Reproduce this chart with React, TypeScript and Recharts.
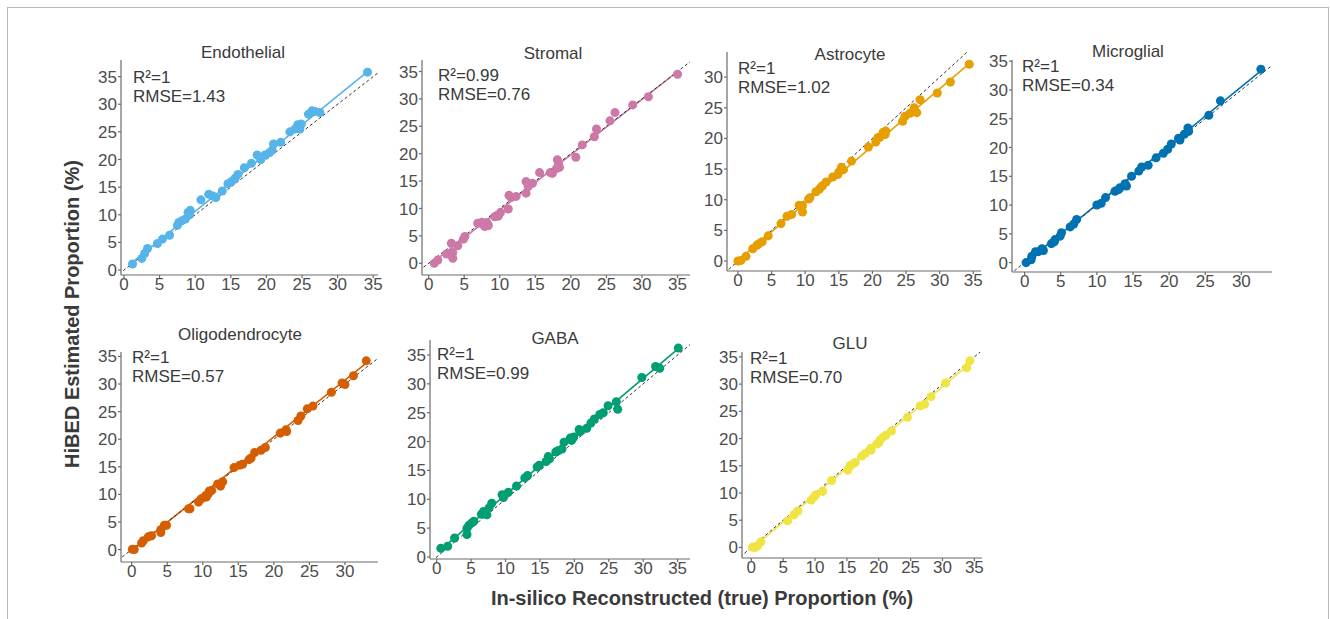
import { ScatterChart, Scatter, XAxis, YAxis, ZAxis, ReferenceLine } from 'recharts';

const FONT = '"Liberation Sans", Arial, Helvetica, sans-serif';
const TICKS_35 = [0, 5, 10, 15, 20, 25, 30, 35];
const TICKS_30 = [0, 5, 10, 15, 20, 25, 30];

// [true %, estimated %]
const endothelialPts = [
  [1.2, 1.1], [2.5, 2.1], [2.9, 3.0], [3.3, 3.9], [4.7, 4.8], [5.4, 5.6], [6.4, 6.3],
  [7.5, 8.1], [7.7, 8.6], [8.1, 8.9], [8.6, 9.2], [9.0, 10.4], [9.3, 10.8], [9.2, 10.0],
  [10.8, 12.7], [11.9, 13.7], [12.5, 13.4], [12.9, 13.1], [13.8, 14.3], [14.6, 15.6],
  [15.1, 16.0], [15.6, 16.6], [16.0, 17.3], [16.9, 18.5], [17.9, 19.3], [18.7, 20.8],
  [19.2, 20.0], [19.8, 20.8], [20.4, 21.2], [20.8, 21.7], [21.0, 22.8], [22.0, 23.1],
  [23.3, 25.0], [24.0, 25.5], [24.4, 26.3], [24.7, 25.5], [24.9, 26.4], [25.9, 28.2],
  [26.4, 28.8], [26.8, 28.7], [27.5, 28.5], [34.2, 35.8],
];
const stromalPts = [
  [0.8, 0.0], [1.3, 0.6], [2.5, 1.7], [3.2, 3.65], [3.4, 1.95], [3.4, 0.9], [4.1, 3.2],
  [4.9, 4.4], [5.1, 4.9], [6.9, 7.3], [7.5, 7.5], [7.7, 7.0], [8.2, 7.4], [8.4, 6.9],
  [7.9, 6.7], [9.3, 8.5], [9.8, 8.6], [10.1, 9.25], [11.2, 9.9], [11.3, 12.4], [11.6, 12.0],
  [12.3, 12.2], [13.7, 12.8], [13.7, 14.9], [14.0, 14.0], [14.6, 14.6], [15.6, 16.55],
  [17.1, 16.55], [17.4, 16.4], [18.1, 18.9], [18.25, 18.3], [18.4, 17.5], [18.0, 17.3],
  [20.7, 19.35], [21.6, 21.6], [23.3, 23.1], [23.6, 24.5], [25.5, 26.0], [26.2, 27.5],
  [28.7, 28.9], [30.9, 30.4], [35.0, 34.5],
];
const astrocytePts = [
  [0.0, 0.0], [0.45, 0.1], [1.2, 0.76], [2.2, 2.0], [2.8, 2.55], [3.1, 2.8], [3.6, 3.15],
  [4.5, 4.1], [6.4, 6.1], [7.3, 7.3], [8.0, 7.6], [9.1, 9.1], [9.6, 9.0], [9.6, 8.0],
  [10.5, 10.1], [10.7, 10.3], [11.6, 11.3], [12.1, 11.7], [12.4, 12.1], [12.6, 12.3],
  [13.1, 12.9], [14.1, 13.7], [14.85, 14.1], [15.0, 14.5], [15.4, 15.3], [15.7, 14.9],
  [16.9, 16.3], [19.4, 18.6], [20.5, 19.4], [20.8, 20.1], [21.1, 20.2], [21.6, 21.0],
  [22.0, 21.2], [21.9, 20.65], [24.5, 22.8], [24.85, 23.6], [25.6, 24.1], [26.2, 25.0],
  [26.6, 24.2], [27.1, 26.3], [29.65, 27.4], [31.6, 29.2], [34.4, 32.1],
];
const microglialPts = [
  [0.2, 0.0], [0.9, 0.5], [1.0, 1.1], [1.5, 1.9], [1.9, 1.9], [2.4, 2.4], [2.6, 2.1],
  [3.7, 3.3], [4.1, 3.6], [4.2, 4.0], [4.9, 4.6], [5.1, 5.2], [6.3, 6.2], [6.8, 6.7],
  [7.2, 7.5], [10.0, 10.0], [10.6, 10.3], [11.2, 11.3], [12.5, 12.4], [13.0, 12.7],
  [13.2, 13.0], [13.9, 13.7], [14.1, 13.3], [14.8, 15.0], [15.8, 15.9], [16.2, 16.6],
  [17.1, 16.9], [18.2, 18.2], [19.2, 19.0], [19.8, 19.7], [20.3, 20.6], [21.3, 21.6],
  [21.5, 21.3], [22.1, 22.3], [22.6, 23.4], [22.7, 22.8], [25.5, 25.6], [27.1, 28.1],
  [32.7, 33.6],
];
const oligoPts = [
  [0.1, 0.05], [0.37, 0.0], [1.4, 1.2], [1.64, 1.6], [2.34, 2.3], [2.8, 2.5], [4.1, 3.1],
  [4.1, 3.6], [4.6, 4.4], [4.9, 4.4], [8.0, 7.4], [8.2, 7.4], [9.4, 8.6], [9.8, 9.2],
  [10.45, 9.8], [10.8, 10.1], [10.9, 10.6], [11.25, 10.7], [10.5, 9.5], [12.1, 11.9],
  [12.5, 11.5], [12.8, 12.3], [14.4, 14.85], [15.2, 15.3], [15.6, 15.45], [16.5, 16.3],
  [16.8, 16.6], [17.3, 17.6], [18.2, 18.0], [18.8, 18.5], [20.9, 21.1], [21.7, 21.7],
  [21.8, 21.4], [23.4, 23.4], [23.8, 24.2], [24.7, 25.5], [25.5, 26.0], [28.1, 28.5],
  [29.6, 30.2], [30.0, 29.9], [31.2, 31.5], [33.0, 34.2],
];
const gabaPts = [
  [0.6, 1.5], [1.6, 1.85], [2.6, 3.3], [4.4, 5.0], [4.4, 3.9], [4.7, 5.5], [5.1, 5.9],
  [5.4, 6.2], [6.5, 7.4], [6.8, 7.9], [7.3, 7.3], [7.6, 8.5], [8.0, 9.3], [9.5, 10.8],
  [9.7, 10.3], [10.4, 11.2], [11.6, 12.3], [12.8, 13.7], [13.2, 14.1], [14.6, 15.6],
  [14.9, 15.9], [15.9, 16.55], [16.2, 17.4], [16.4, 17.0], [17.3, 18.2], [17.7, 18.45],
  [18.2, 18.7], [18.5, 19.9], [19.4, 20.6], [19.6, 20.2], [19.9, 20.8], [20.7, 22.1],
  [20.8, 21.7], [21.8, 22.3], [22.4, 23.2], [22.9, 23.9], [23.7, 24.7], [24.2, 25.0],
  [24.9, 26.2], [26.1, 26.9], [26.3, 25.6], [29.8, 31.1], [31.8, 33.0], [32.4, 32.7],
  [35.1, 36.2],
];
const gluPts = [
  [0.2, 0.06], [0.6, 0.0], [1.0, 0.3], [1.5, 1.0], [5.7, 4.9], [6.7, 6.0], [7.3, 6.7],
  [9.4, 8.7], [9.8, 9.2], [10.1, 9.65], [11.2, 10.3], [12.6, 12.3], [15.15, 14.2],
  [15.5, 15.0], [15.9, 15.3], [16.3, 15.6], [17.35, 16.8], [17.9, 17.3], [18.75, 18.2],
  [18.8, 17.9], [19.7, 19.0], [20.0, 19.2], [20.2, 19.7], [20.7, 20.3], [21.1, 20.6],
  [22.0, 21.4], [24.5, 23.9], [26.5, 26.0], [27.2, 26.3], [28.2, 27.7], [30.5, 30.2],
  [33.8, 33.0], [34.3, 34.3],
];

// fitted line end points
const endothelialFit = [[1.0, 1.2], [34.2, 35.9]];
const stromalFit = [[0.8, 0.4], [35.0, 35.0]];
const astrocyteFit = [[0.0, 0.1], [34.4, 32.2]];
const microglialFit = [[0.2, 0.1], [32.7, 33.3]];
const oligoFit = [[0.1, -0.1], [33.0, 33.8]];
const gabaFit = [[0.6, 1.3], [35.1, 36.1]];
const gluFit = [[0.2, -0.1], [34.3, 33.8]];

const PANELS = [
  { title: 'Endothelial', r2: '1', rmse: '1.43', color: '#56B4E9', pts: endothelialPts, fit: endothelialFit,
    box: [121, 60, 378, 275], xd: [-0.42, 35.67], yd: [-0.9, 38.0], xt: TICKS_35, yt: TICKS_35,
    tpos: [243, 52], npos: [133, 77] },
  { title: 'Stromal', r2: '0.99', rmse: '0.76', color: '#CC79A7', pts: stromalPts, fit: stromalFit,
    box: [422, 60, 690, 275], xd: [-0.93, 36.75], yd: [-2.14, 37.1], xt: TICKS_35, yt: TICKS_35,
    tpos: [553, 53], npos: [438, 75] },
  { title: 'Astrocyte', r2: '1', rmse: '1.02', color: '#E69F00', pts: astrocytePts, fit: astrocyteFit,
    box: [727, 52, 981, 271], xd: [-1.63, 36.15], yd: [-1.63, 34.1], xt: TICKS_35, yt: TICKS_30,
    tpos: [850, 54], npos: [738, 68] },
  { title: 'Microglial', r2: '1', rmse: '0.34', color: '#0072B2', pts: microglialPts, fit: microglialFit,
    box: [1012, 60, 1272, 272], xd: [-1.75, 34.24], yd: [-1.63, 35.2], xt: TICKS_30, yt: TICKS_35,
    tpos: [1128, 51], npos: [1022, 66] },
  { title: 'Oligodendrocyte', r2: '1', rmse: '0.57', color: '#D55E00', pts: oligoPts, fit: oligoFit,
    box: [121, 352, 378, 562], xd: [-1.5, 34.65], yd: [-2.25, 35.8], xt: TICKS_30, yt: TICKS_35,
    tpos: [240, 334], npos: [132, 357] },
  { title: 'GABA', r2: '1', rmse: '0.99', color: '#009E73', pts: gabaPts, fit: gabaFit,
    box: [430, 340, 690, 559], xd: [-0.97, 36.8], yd: [-0.35, 37.6], xt: TICKS_35, yt: TICKS_35,
    tpos: [555, 338], npos: [437, 354] },
  { title: 'GLU', r2: '1', rmse: '0.70', color: '#F0E442', pts: gluPts, fit: gluFit,
    box: [742, 352, 982, 558], xd: [-1.46, 36.2], yd: [-1.94, 35.9], xt: TICKS_35, yt: TICKS_35,
    tpos: [850, 343], npos: [750, 358] },
];

const tickStyle = { fill: '#4d4d4d', fontSize: 17, fontFamily: FONT };
const axisStroke = { stroke: '#6b6b6b', strokeWidth: 1.2 };

function Panel({ p }: { p: any }) {
  const [l, t, r, b] = p.box;
  const padL = 50, padT = 10, padR = 12, padB = 30;
  const data = p.pts.map(([x, y]: number[]) => ({ x, y }));
  const fit = p.fit.map(([x, y]: number[]) => ({ x, y }));
  return (
    <>
      <div style={{ position: 'absolute', left: l - padL, top: t - padT }}>
        <ScatterChart width={r - l + padL + padR} height={b - t + padT + padB}
          margin={{ top: padT, right: padR, left: 0, bottom: 0 }}>
          <XAxis type="number" dataKey="x" domain={p.xd} ticks={p.xt} allowDataOverflow interval={0}
            height={padB} axisLine={axisStroke} tickLine={axisStroke} tickSize={3} tickMargin={0} tick={tickStyle} />
          <YAxis type="number" dataKey="y" domain={p.yd} ticks={p.yt} allowDataOverflow interval={0}
            width={padL} axisLine={axisStroke} tickLine={axisStroke} tickSize={3} tickMargin={1} tick={tickStyle} />
          <ZAxis range={[58, 58]} />
          <Scatter data={data} fill={p.color} isAnimationActive={false} />
          <ReferenceLine segment={fit} stroke={p.color} strokeWidth={1.6} ifOverflow="visible" />
          <ReferenceLine segment={[{ x: -5, y: -5 }, { x: 40, y: 40 }]} stroke="#333"
            strokeWidth={1} strokeDasharray="3 2.5" ifOverflow="hidden" />
        </ScatterChart>
      </div>
      <div style={{ position: 'absolute', left: p.tpos[0], top: p.tpos[1], transform: 'translate(-50%, -50%)',
        fontSize: 17, color: '#3a3a3a', whiteSpace: 'nowrap', lineHeight: 1 }}>{p.title}</div>
      <div style={{ position: 'absolute', left: p.npos[0], top: p.npos[1] - 9.5,
        fontSize: 17, color: '#3a3a3a', whiteSpace: 'nowrap', lineHeight: '19px' }}>
        <div>R²={p.r2}</div>
        <div>RMSE={p.rmse}</div>
      </div>
    </>
  );
}

export default function App() {
  return (
    <div style={{ position: 'absolute', left: 0, top: 0, width: 1330, height: 619, background: '#fff',
      fontFamily: FONT, overflow: 'hidden' }}>
      <div style={{ position: 'absolute', left: 7, top: 7, width: 1320, height: 700, border: '1px solid #b8b8b8' }} />
      {PANELS.map(p => <Panel key={p.title} p={p} />)}
      <div style={{ position: 'absolute', left: 72, top: 314, transform: 'translate(-50%, -50%) rotate(-90deg)',
        fontSize: 20, fontWeight: 'bold', color: '#3a3a3a', whiteSpace: 'nowrap' }}>
        HiBED Estimated Proportion (%)
      </div>
      <div style={{ position: 'absolute', left: 702, top: 598, transform: 'translate(-50%, -50%)',
        fontSize: 20, fontWeight: 'bold', color: '#3a3a3a', whiteSpace: 'nowrap' }}>
        In-silico Reconstructed (true) Proportion (%)
      </div>
    </div>
  );
}
